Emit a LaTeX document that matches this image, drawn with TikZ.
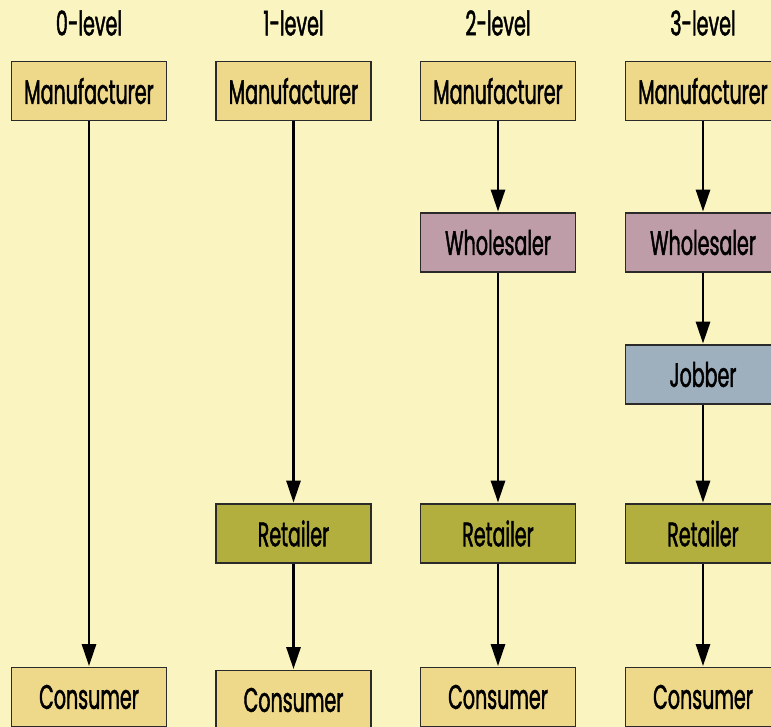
\documentclass[tikz,border=0pt]{standalone}
\usepackage{fontspec}
\setmainfont{Poppins}[FakeStretch=0.56, FakeBold=1.3]
\usetikzlibrary{arrows.meta}
\definecolor{bg}{HTML}{FAF5C0}
\definecolor{manuf}{HTML}{EED88A}
\definecolor{whole}{HTML}{BF9DA8}
\definecolor{jobb}{HTML}{9EAFBE}
\definecolor{retl}{HTML}{B3AF3E}
\definecolor{edge}{HTML}{2A2A2A}
\begin{document}
\begin{tikzpicture}[x=1pt,y=-1pt,
  box/.style={draw=edge, line width=1.4pt, minimum width=155pt, minimum height=59pt, inner sep=0pt, font=\fontsize{34}{35}\selectfont, text=black},
  title/.style={font=\fontsize{34}{35}\selectfont, text=black},
  flow/.style={line width=2.8pt, -{Triangle[length=22pt,width=14pt]}, shorten >=0.7pt}]
\fill[bg] (0,0) rectangle (771,727);
\useasboundingbox (0,0) rectangle (771,727);
% titles
\node[title] (t0) at (89,23) {0-level};
\node[title] (t1) at (293.5,23) {1-level};
\node[title] (t2) at (498,23) {2-level};
\node[title] (t3) at (703,23) {3-level};
% column 0
\node[box, fill=manuf] (m0) at (89,91) {Manufacturer};
\node[box, fill=manuf] (c0) at (89,697) {Consumer};
% column 1
\node[box, fill=manuf] (m1) at (293.5,91) {Manufacturer};
\node[box, fill=retl] (r1) at (293.5,533.5) {Retailer};
\node[box, fill=manuf] (c1) at (293.5,700) {Consumer};
% column 2
\node[box, fill=manuf] (m2) at (498,91) {Manufacturer};
\node[box, fill=whole] (w2) at (498,242.5) {Wholesaler};
\node[box, fill=retl] (r2) at (498,533.5) {Retailer};
\node[box, fill=manuf] (c2) at (498,697) {Consumer};
% column 3
\node[box, fill=manuf] (m3) at (703,91) {Manufacturer};
\node[box, fill=whole] (w3) at (703,242.5) {Wholesaler};
\node[box, fill=jobb] (j3) at (703,374.5) {Jobber};
\node[box, fill=retl] (r3) at (703,533.5) {Retailer};
\node[box, fill=manuf] (c3) at (703,697) {Consumer};
% arrows
\draw[flow] (m0) -- (c0);
\draw[flow] (m1) -- (r1);
\draw[flow] (r1) -- (c1);
\draw[flow] (m2) -- (w2);
\draw[flow] (w2) -- (r2);
\draw[flow] (r2) -- (c2);
\draw[flow] (m3) -- (w3);
\draw[flow] (w3) -- (j3);
\draw[flow] (j3) -- (r3);
\draw[flow] (r3) -- (c3);
\end{tikzpicture}
\end{document}
